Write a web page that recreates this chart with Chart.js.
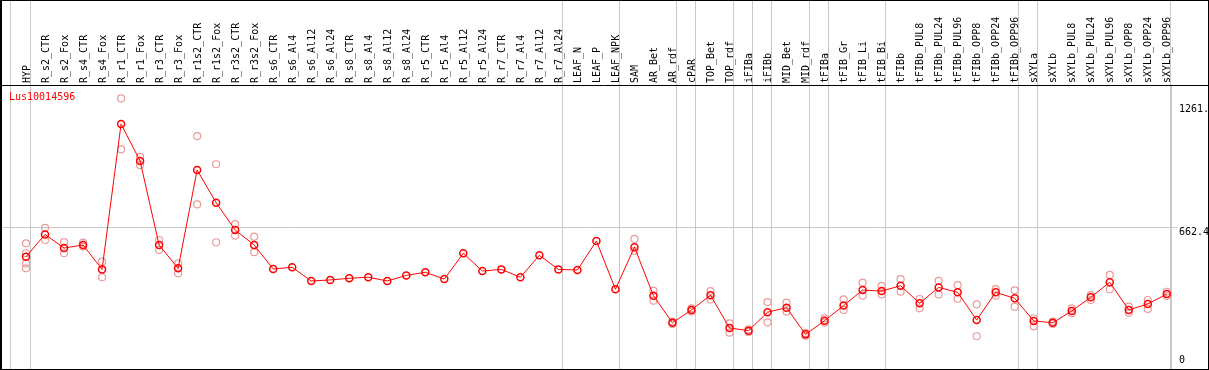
<!DOCTYPE html>
<html>
<head>
<meta charset="utf-8">
<script src="https://cdn.jsdelivr.net/npm/chart.js@4"></script>
<style>
  html, body { margin: 0; padding: 0; background: #fff; }
  canvas { display: block; }
</style>
</head>
<body>
<canvas id="chart" width="1209" height="370"></canvas>
<script>
const GENE = 'Lus10014596';

const LABELS = ['HYP', 'R_s2_CTR', 'R_s2_Fox', 'R_s4_CTR', 'R_s4_Fox', 'R_r1_CTR', 'R_r1_Fox', 'R_r3_CTR', 'R_r3_Fox',
  'R_r1s2_CTR', 'R_r1s2_Fox', 'R_r3s2_CTR', 'R_r3s2_Fox', 'R_s6_CTR', 'R_s6_Al4', 'R_s6_Al12', 'R_s6_Al24',
  'R_s8_CTR', 'R_s8_Al4', 'R_s8_Al12', 'R_s8_Al24', 'R_r5_CTR', 'R_r5_Al4', 'R_r5_Al12', 'R_r5_Al24',
  'R_r7_CTR', 'R_r7_Al4', 'R_r7_Al12', 'R_r7_Al24', 'LEAF_N', 'LEAF_P', 'LEAF_NPK', 'SAM', 'AR_Bet', 'AR_rdf',
  'cPAR', 'TOP_Bet', 'TOP_rdf', 'iFIBa', 'iFIBb', 'MID_Bet', 'MID_rdf', 'tFIBa', 'tFIB_Gr', 'tFIB_Li', 'tFIB_Bi',
  'tFIBb', 'tFIBb_PUL8', 'tFIBb_PUL24', 'tFIBb_PUL96', 'tFIBb_OPP8', 'tFIBb_OPP24', 'tFIBb_OPP96',
  'sXYLa', 'sXYLb', 'sXYLb_PUL8', 'sXYLb_PUL24', 'sXYLb_PUL96', 'sXYLb_OPP8', 'sXYLb_OPP24', 'sXYLb_OPP96'];

const MEANS = [523, 631, 565, 580, 462, 1164, 986, 580, 467,
  942, 784, 652, 580, 464, 472, 406, 411,
  419, 424, 406, 433, 448, 415, 540, 454,
  462, 424, 530, 462, 459, 599, 366, 569, 335, 204,
  266, 337, 179, 166, 255, 277, 148, 214, 287, 362, 357,
  383, 298, 375, 351, 217, 351, 322,
  213, 204, 261, 327, 400, 266, 295, 343];

const REPLICATES = [[588, 540, 491, 467], [663, 604], [594, 540], [591, 572], [499, 424], [1288, 1042], [1006, 966], [604, 556], [491, 443],
  [1106, 776], [970, 593], [681, 625], [620, 545], [], [], [], [],
  [], [], [], [], [], [], [], [],
  [], [], [], [], [], [], [], [609, 551], [359, 311], [210, 198],
  [274, 258], [357, 317], [201, 156], [172, 160], [304, 206], [301, 259], [155, 141], [225, 205], [317, 266], [398, 335], [382, 341],
  [415, 354], [319, 274], [406, 341], [386, 320], [293, 139], [367, 335], [361, 282],
  [226, 187], [210, 198], [274, 250], [338, 314], [435, 366], [282, 253], [314, 271], [354, 333]];

// group dividers sit just right of these category indexes
const DIVIDERS = [-1, 0, 28, 31, 34, 35, 37, 38, 39, 41, 42, 45, 52, 53, 60];
const Y_TICKS = [0, 662.4, 1261];
const Y_TICK_TEXT = ['0', '662.4', '1261.'];

const GRID = '#c8c8c8';
const DIV_SHIFT = 0.21;
const FONT = '"DejaVu Sans Mono", monospace';

const meanPoints = MEANS.map((v, i) => ({ x: i, y: v }));
const repPoints = REPLICATES.flatMap((reps, i) => reps.map((v) => ({ x: i, y: v })));

const frame = {
  id: 'frame',
  afterDraw(chart) {
    const { ctx, chartArea } = chart;
    const y = chart.scales.y;
    ctx.save();
    ctx.strokeStyle = '#000';
    ctx.lineWidth = 1;
    ctx.beginPath();
    ctx.moveTo(0, chartArea.top + 0.5);
    ctx.lineTo(chart.width, chartArea.top + 0.5);
    ctx.stroke();
    ctx.strokeRect(0.5, 0.5, chart.width - 1, chart.height - 1);
    ctx.beginPath();
    ctx.moveTo(1.5, 0); ctx.lineTo(1.5, chart.height);
    ctx.stroke();

    ctx.font = '10px ' + FONT;
    ctx.fillStyle = '#000';
    ctx.textAlign = 'left';
    y.ticks.forEach((t, i) => {
      ctx.textBaseline = t.value === 0 ? 'bottom' : 'top';
      ctx.fillText(Y_TICK_TEXT[i], y.left + 8, y.getPixelForValue(t.value));
    });

    ctx.fillStyle = '#ff0000';
    ctx.textBaseline = 'top';
    ctx.fillText(GENE, chartArea.left + 9, chartArea.top + 7);
    ctx.restore();
  }
};

Chart.defaults.font.family = FONT;
Chart.defaults.font.size = 10;
Chart.defaults.color = '#000';

new Chart(document.getElementById('chart'), {
  type: 'line',
  data: {
    datasets: [
      {
        data: meanPoints,
        borderColor: '#ff0000',
        borderWidth: 1,
        pointRadius: 3.5,
        pointBorderWidth: 1.5,
        pointBorderColor: '#ff0000',
        pointBackgroundColor: 'rgba(0,0,0,0)',
        order: 1
      },
      {
        type: 'scatter',
        data: repPoints,
        showLine: false,
        pointRadius: 3.5,
        pointBorderWidth: 1.2,
        pointBorderColor: '#eb9a9a',
        pointBackgroundColor: 'rgba(0,0,0,0)',
        order: 2
      }
    ]
  },
  options: {
    responsive: false,
    animation: false,
    layout: { autoPadding: false, padding: { left: 0, right: 0, top: 0, bottom: 1 } },
    plugins: { legend: { display: false }, tooltip: { enabled: false } },
    scales: {
      x: {
        type: 'linear',
        position: 'top',
        min: -1.368,
        max: 60.22,
        afterBuildTicks: (axis) => {
          axis.ticks = LABELS.map((_, i) => ({ value: i + DIV_SHIFT }));
          axis.ticks.unshift({ value: -1 + DIV_SHIFT });
        },
        afterFit: (axis) => { axis.height = 85; axis.paddingLeft = 0; axis.paddingRight = 0; },
        ticks: {
          autoSkip: false,
          minRotation: 90,
          maxRotation: 90,
          padding: -83,
          labelOffset: 9,
          font: { size: 10, family: FONT },
          callback: (v, i) => (i === 0 ? '' : LABELS[i - 1])
        },
        grid: {
          color: (c) => (DIVIDERS.includes(c.index - 1) ? GRID : 'rgba(0,0,0,0)'),
          lineWidth: 1,
          tickLength: 85
        },
        border: { display: false }
      },
      y: {
        type: 'linear',
        position: 'right',
        min: -19.3,
        max: 1352.8,
        afterBuildTicks: (axis) => { axis.ticks = Y_TICKS.map((v) => ({ value: v })); },
        afterFit: (axis) => { axis.width = 38; axis.paddingTop = 0; axis.paddingBottom = 0; },
        ticks: { display: false },
        grid: {
          color: (c) => (c.tick && c.tick.value === 662.4 ? GRID : 'rgba(0,0,0,0)'),
          tickLength: 6
        },
        border: { display: true, color: GRID }
      }
    }
  },
  plugins: [frame]
});
</script>
</body>
</html>
